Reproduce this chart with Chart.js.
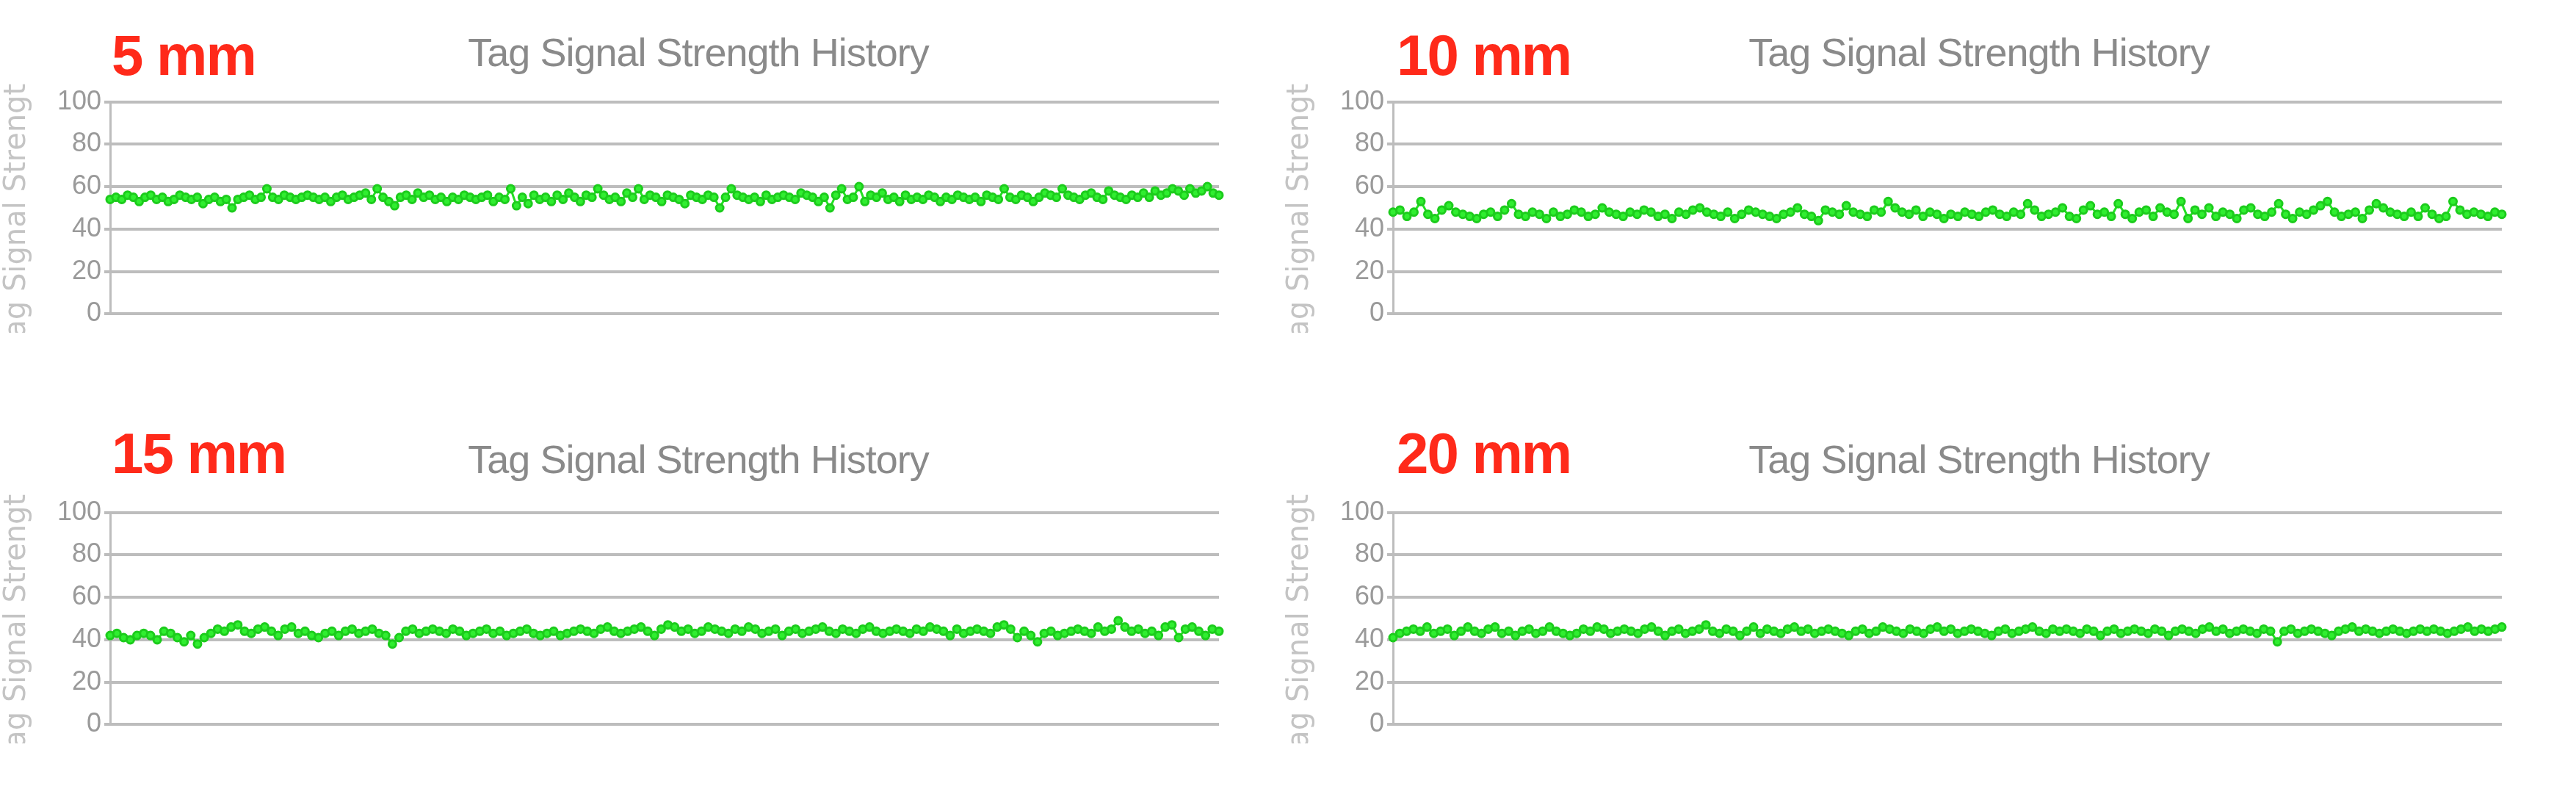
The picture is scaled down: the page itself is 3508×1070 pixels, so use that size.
<!DOCTYPE html>
<html>
<head>
<meta charset="utf-8">
<script src="https://cdn.jsdelivr.net/npm/chart.js@4"></script>
<style>
body { margin: 0; background: #fff; width: 3508px; height: 1070px; position: relative; overflow: hidden; font-family: "Liberation Sans", Arial, sans-serif; }
.box { position: absolute; width: 1720px; height: 340px; }
.mm { position: absolute; color: #ff2a1a; font-weight: bold; font-size: 78px; font-family: "Liberation Sans", sans-serif; letter-spacing: -2px; }
.ttl { position: absolute; color: #8a8a8a; font-size: 54px; width: 900px; text-align: center; font-family: "Liberation Sans", sans-serif; letter-spacing: -1px; }
</style>
</head>
<body>
<div class="mm" style="left:152px;top:30px">5 mm</div>
<div class="mm" style="left:1902px;top:30px">10 mm</div>
<div class="mm" style="left:152px;top:572px">15 mm</div>
<div class="mm" style="left:1902px;top:572px">20 mm</div>
<div class="ttl" style="left:501px;top:40px">Tag Signal Strength History</div>
<div class="ttl" style="left:2245px;top:40px">Tag Signal Strength History</div>
<div class="ttl" style="left:501px;top:594px">Tag Signal Strength History</div>
<div class="ttl" style="left:2245px;top:594px">Tag Signal Strength History</div>
<div class="box" style="left:0;top:113px"><canvas id="c1"></canvas></div>
<div class="box" style="left:1747px;top:113px"><canvas id="c2"></canvas></div>
<div class="box" style="left:0;top:672px"><canvas id="c3"></canvas></div>
<div class="box" style="left:1747px;top:672px"><canvas id="c4"></canvas></div>
<script>
var yTicks = [0, 20, 40, 60, 80, 100];

var mm5 = [54,55,54,56,55,53,55,56,54,55,53,54,56,55,54,55,52,54,55,53,54,50,54,55,56,54,55,59,55,54,56,55,54,55,56,55,54,55,53,55,56,54,55,56,57,54,59,55,53,51,55,56,54,57,55,56,54,55,53,55,54,56,55,54,55,56,53,55,54,59,51,55,52,56,54,55,53,56,54,57,55,53,56,55,59,56,54,55,53,57,55,59,54,56,55,53,56,55,54,52,56,55,54,56,55,50,55,59,56,55,54,55,53,56,54,55,56,55,54,57,56,55,53,55,50,56,59,54,55,60,53,56,55,57,54,55,53,56,54,55,54,56,55,53,55,54,56,55,54,55,53,56,55,54,59,55,54,56,55,53,55,57,56,55,59,56,55,54,56,57,55,54,58,56,55,54,56,55,57,55,58,56,57,59,58,56,59,57,58,60,57,56];
var mm10 = [48,49,46,48,53,47,45,49,51,48,47,46,45,47,48,46,49,52,47,46,48,47,45,48,46,47,49,48,46,47,50,48,47,46,48,47,49,48,46,47,45,48,47,49,50,48,47,46,48,45,47,49,48,47,46,45,47,48,50,47,46,44,49,48,47,51,48,47,46,49,48,53,50,48,47,49,46,48,47,45,47,46,48,47,46,48,49,47,46,48,47,52,49,46,47,48,50,46,45,49,51,47,48,46,52,47,45,48,49,46,50,48,47,53,45,49,47,50,46,48,47,45,49,50,47,46,48,52,47,45,48,47,49,51,53,48,46,47,48,45,49,52,50,48,47,46,48,46,50,47,45,46,53,49,47,48,47,46,48,47];
var mm15 = [42,43,41,40,42,43,42,40,44,43,41,39,42,38,41,43,45,44,46,47,44,43,45,46,44,42,45,46,43,44,42,41,43,44,42,44,45,43,44,45,43,42,38,41,44,45,43,44,45,44,43,45,44,42,43,44,45,43,44,42,43,44,45,43,42,43,44,42,43,44,45,44,43,45,46,44,43,44,45,46,44,42,45,47,46,44,45,43,44,46,45,44,43,45,44,46,45,43,44,45,42,44,45,43,44,45,46,44,43,45,44,43,45,46,44,43,44,45,44,43,45,44,46,45,44,42,45,43,44,45,44,43,46,47,45,41,44,42,39,43,44,42,43,44,45,44,43,46,44,45,49,46,44,45,43,44,42,46,47,41,45,46,44,42,45,44];
var mm20 = [41,43,44,45,44,46,43,44,45,42,44,46,44,43,45,46,43,44,42,44,45,43,44,46,44,43,42,43,45,44,46,45,43,44,45,44,43,45,46,44,42,44,45,43,44,45,47,44,43,45,44,42,44,46,43,45,44,43,45,46,44,45,43,44,45,44,43,42,44,45,43,44,46,45,44,43,45,44,43,45,46,44,45,43,44,45,44,43,42,44,45,43,44,45,46,44,43,45,44,45,44,43,45,44,42,44,45,43,44,45,44,43,45,44,42,44,45,44,43,45,46,44,45,43,44,45,44,43,45,44,39,44,45,43,44,45,44,43,42,44,45,46,44,45,44,43,44,45,44,43,44,45,44,45,44,43,44,45,46,44,45,44,45,46];

function drawPanel(id, values) {
    var labels = values.map(function (v, i) { return i + 1; });
    new Chart(document.getElementById(id), {
        type: 'line',
        data: {
            labels: labels,
            datasets: [{
                data: values,
                borderColor: '#22e022', backgroundColor: '#30ee30',
                pointBorderColor: '#1ccc1c', borderWidth: 3,
                pointRadius: 5, pointHoverRadius: 5, tension: 0
            }]
        },
        options: {
            animation: false, responsive: true, maintainAspectRatio: false,
            layout: { padding: { top: 10, right: 60, bottom: 0, left: 0 } },
            plugins: { legend: { display: false }, tooltip: { enabled: false } },
            scales: {
                x: {
                    offset: false,
                    ticks: { display: false },
                    grid: { display: false },
                    border: { display: false }
                },
                y: {
                    min: 0, max: 100,
                    afterBuildTicks: function (s) { s.ticks = yTicks.map(function (v) { return { value: v }; }); },
                    afterFit: function (s) { s.width = 150; },
                    ticks: { color: '#9a9a9a', font: { size: 36, family: 'Liberation Sans' }, padding: 4 },
                    grid: { color: '#bdbdbd', lineWidth: 4, tickLength: 8 },
                    border: { display: true, color: '#bdbdbd', width: 3 },
                    title: { display: true, text: 'Tag Signal Strength', color: '#c4c4c4', font: { size: 40, family: 'DejaVu Sans' }, padding: 0 }
                }
            }
        }
    });
}

drawPanel('c1', mm5);
drawPanel('c2', mm10);
drawPanel('c3', mm15);
drawPanel('c4', mm20);
</script>
</body>
</html>
